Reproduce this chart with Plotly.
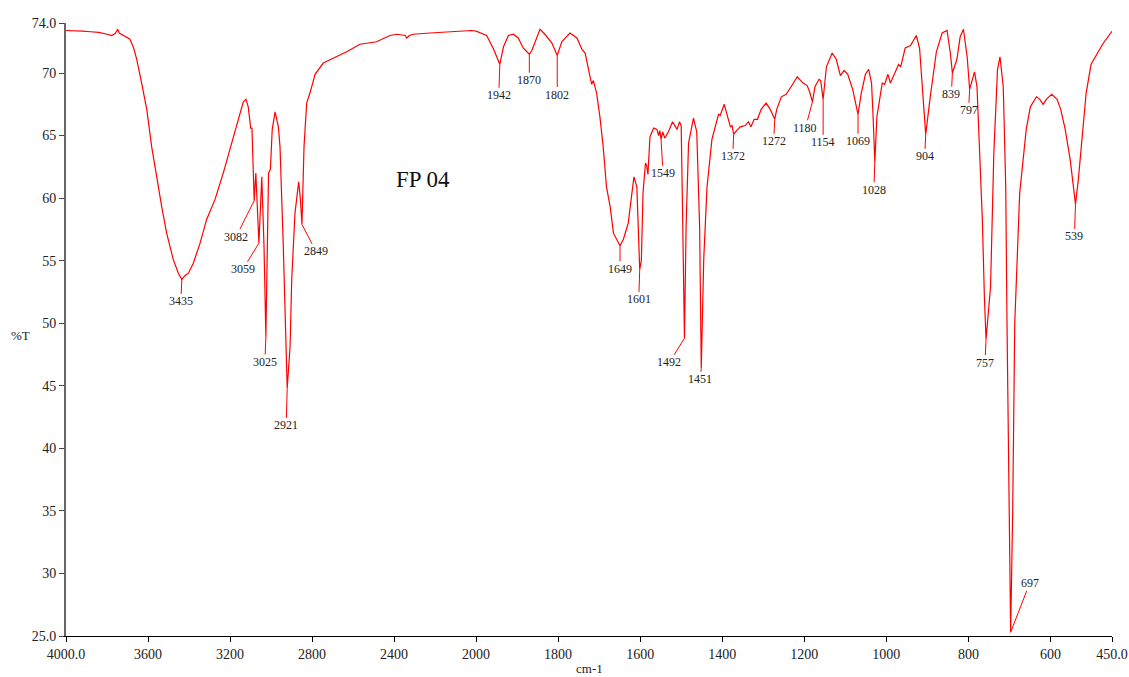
import plotly.graph_objects as go
import numpy as np

# ---- spectrum data (wavenumber cm-1, %T) ----
wn_high = [4000, 3960, 3920, 3880, 3840, 3800, 3777, 3760, 3748, 3740, 3728, 3710, 3688, 3670,
           3655, 3631, 3606, 3582, 3558, 3533, 3509, 3477, 3452, 3435, 3420, 3403, 3379, 3346,
           3314, 3273, 3233, 3200, 3167, 3135, 3122, 3111, 3099, 3093, 3082, 3074, 3059, 3045,
           3034, 3025, 3012, 3003, 2994, 2980, 2964, 2956, 2940, 2927, 2921, 2907, 2899, 2883,
           2865, 2857, 2849, 2839, 2826, 2810, 2802, 2785, 2745, 2680, 2631, 2566, 2485, 2420,
           2387, 2345, 2338, 2325, 2306, 2224, 2143, 2060, 2021, 2000]
t_high = [73.4, 73.4, 73.35, 73.3, 73.25, 73.1, 73.0, 73.15, 73.5, 73.2, 73.1, 72.95, 72.7, 72.0,
          71.1, 69.2, 67.1, 64.1, 61.7, 59.3, 57.2, 55.1, 54.0, 53.5, 53.8, 54.0, 54.8, 56.4,
          58.3, 59.9, 62.0, 63.9, 66.0, 67.7, 67.9, 67.3, 65.6, 65.6, 59.8, 62.0, 56.4, 61.7,
          56.1, 48.9, 62.0, 62.3, 65.5, 66.9, 65.7, 64.1, 56.1, 47.0, 44.8, 48.1, 53.5, 58.8,
          61.3, 60.0, 57.9, 64.1, 67.6, 68.4, 68.9, 69.9, 70.8, 71.3, 71.7, 72.3, 72.5, 73.0,
          73.1, 73.0, 72.8, 73.0, 73.1, 73.2, 73.3, 73.35, 73.4, 73.35]

wn_low = [2000, 1990, 1974, 1957, 1942, 1933, 1921, 1909, 1897, 1885, 1870, 1864, 1852, 1844,
          1832, 1815, 1802, 1791, 1771, 1754, 1742, 1734, 1722, 1718, 1714, 1706, 1698, 1690,
          1682, 1673, 1665, 1649, 1641, 1629, 1620, 1615, 1608, 1601, 1597, 1593, 1587, 1584,
          1581, 1576, 1567, 1559, 1555, 1552, 1549, 1545, 1540, 1531, 1521, 1510, 1504, 1500,
          1496, 1492, 1488, 1482, 1470, 1462, 1455, 1451, 1445, 1437, 1425, 1417, 1409, 1405,
          1395, 1385, 1380, 1376, 1372, 1365, 1356, 1344, 1336, 1330, 1322, 1314, 1305, 1293,
          1283, 1272, 1267, 1256, 1244, 1232, 1217, 1203, 1193, 1187, 1180, 1174, 1164, 1160,
          1154, 1146, 1132, 1122, 1112, 1103, 1094, 1082, 1069, 1061, 1051, 1043, 1036, 1032,
          1028, 1023, 1016, 1010, 1004, 996, 990, 980, 970, 965, 954, 941, 927, 919, 911, 904,
          893, 878, 864, 852, 844, 839, 828, 820, 812, 803, 797, 791, 785, 779, 772, 766, 761,
          757, 746, 738, 729, 723, 715, 709, 706, 703, 697, 692, 689, 687, 675, 665, 659, 649,
          634, 626, 618, 610, 597, 584, 575, 564, 552, 544, 539, 532, 523, 513, 501, 487, 471,
          451, 450]
t_low = [73.35, 73.2, 73.0, 71.9, 70.7, 72.1, 73.0, 73.1, 72.8, 72.0, 71.5, 71.8, 72.9, 73.5,
         73.1, 72.4, 71.4, 72.5, 73.2, 72.8, 71.9, 71.6, 69.7, 69.1, 69.4, 68.4, 66.5, 64.1,
         60.9, 59.3, 57.2, 56.2, 56.7, 58.0, 60.4, 61.7, 60.9, 54.3, 55.0, 60.4, 62.8, 62.6,
         61.9, 64.9, 65.6, 65.5, 65.0, 65.4, 64.7, 65.3, 64.8, 65.3, 66.1, 65.5, 66.1, 65.8,
         57.7, 48.8, 57.7, 64.4, 66.4, 65.3, 57.7, 46.4, 55.1, 60.9, 64.7, 65.6, 66.7, 66.6,
         67.5, 66.3, 65.7, 65.8, 65.1, 65.4, 65.7, 65.8, 66.1, 65.7, 66.3, 66.3, 67.1, 67.6,
         67.1, 66.3, 67.1, 68.1, 68.3, 68.9, 69.7, 69.2, 69.0, 68.5, 67.7, 68.9, 69.5, 69.4,
         67.9, 70.5, 71.6, 71.1, 69.8, 70.2, 69.9, 68.7, 66.7, 68.4, 69.9, 70.3, 69.2, 66.3,
         62.9, 66.5, 68.1, 69.2, 69.1, 69.9, 69.2, 69.9, 70.7, 70.5, 72.0, 72.2, 73.0, 72.0, 68.4, 65.1,
         68.1, 71.7, 73.2, 73.4, 71.6, 70.0, 71.1, 72.9, 73.5, 71.3, 68.7, 69.5, 70.1, 68.9, 63.6, 58.3, 52.1,
         48.7, 52.9, 63.6, 70.3, 71.3, 68.9, 60.9, 50.3, 40.0, 25.3, 35.0, 46.0, 50.0, 60.4, 63.9, 65.5, 67.3,
         68.1, 67.9, 67.5, 67.9, 68.3, 67.9, 67.1, 65.5, 63.1, 60.9, 59.5, 61.5, 64.9, 68.4, 70.7, 71.5, 72.4,
         73.3, 73.35]

# peak labels: wavenumber, text offset (ax, ay) in pixels
peaks_high = [3435, 3082, 3059, 3025, 2921, 2849]
offs_high = [(-1, 22), (-18, 36), (-16, 26), (-1, 25), (-1, 37), (14, 27)]
peaks_low = [1942, 1870, 1802, 1649, 1601, 1549, 1492, 1451, 1372, 1272, 1180, 1154, 1069,
             1028, 904, 839, 797, 757, 697, 539]
offs_low = [(-1, 31), (0, 26), (0, 39), (0, 23), (-1, 30), (2, 34), (-15, 24), (-1, 11),
            (-1, 22), (-1, 22), (-7, 26), (0, 43), (0, 27), (-1, 28), (-1, 22), (-1, 21),
            (-1, 21), (-1, 23), (19, -49), (-1, 32)]

x1_ticks = [4000, 3600, 3200, 2800, 2400]
x1_text = ["4000.0", "3600", "3200", "2800", "2400"]
x2_ticks = [2000, 1800, 1600, 1400, 1200, 1000, 800, 600, 450]
x2_text = ["2000", "1800", "1600", "1400", "1200", "1000", "800", "600", "450.0"]
y_ticks = [25, 30, 35, 40, 45, 50, 55, 60, 65, 70, 74]
y_text = ["25.0", "30", "35", "40", "45", "50", "55", "60", "65", "70", "74.0"]

SERIF = "Liberation Serif, Times New Roman, serif"
RED = "#ff0000"

fig = go.Figure()
fig.add_trace(go.Scatter(x=wn_high, y=t_high, mode="lines", xaxis="x", yaxis="y",
                         line=dict(color=RED, width=1.2), showlegend=False, hoverinfo="skip"))
fig.add_trace(go.Scatter(x=wn_low, y=t_low, mode="lines", xaxis="x2", yaxis="y",
                         line=dict(color=RED, width=1.2), showlegend=False, hoverinfo="skip"))

split = 410 / 1046

annotations = []


def add_peaks(peaks, offs, wn, tt, xref):
    wn_a = np.array(wn[::-1], dtype=float)
    t_a = np.array(tt[::-1], dtype=float)
    for p, (ax, ay) in zip(peaks, offs):
        yv = float(np.interp(p, wn_a, t_a))
        annotations.append(dict(x=p, y=yv, xref=xref, yref="y", text=str(p),
                                showarrow=True, arrowhead=0, arrowwidth=1, arrowcolor=RED,
                                ax=ax, ay=ay, standoff=0, borderpad=0,
                                font=dict(family=SERIF, size=12, color="#222")))


add_peaks(peaks_high, offs_high, wn_high, t_high, "x")
add_peaks(peaks_low, offs_low, wn_low, t_low, "x2")

annotations.append(dict(x=2258, y=61.5, xref="x", yref="y", text="FP 04", showarrow=False,
                        font=dict(family=SERIF, size=23, color="#111")))
annotations.append(dict(x=(20 - 66) / 1046, y=(636 - 336) / 613, xref="paper", yref="paper",
                        xanchor="center", yanchor="middle",
                        text="%T", showarrow=False,
                        font=dict(family=SERIF, size=13, color="#222")))
annotations.append(dict(x=0.5, y=(636 - 668) / 613, xref="paper", yref="paper",
                        xanchor="center", yanchor="middle",
                        text="cm-1", showarrow=False,
                        font=dict(family=SERIF, size=13, color="#222")))

axis_common = dict(showgrid=False, zeroline=False, showline=True, linecolor="black",
                   linewidth=1, ticks="outside", ticklen=5, tickcolor="black", automargin=False,
                   tickfont=dict(family=SERIF, size=14, color="#222"))

fig.update_layout(
    width=1129, height=677, autosize=False,
    margin=dict(l=66, r=17, t=23, b=41),
    paper_bgcolor="white", plot_bgcolor="white",
    xaxis=dict(domain=[0, split], range=[4000, 2000], anchor="y",
               tickmode="array", tickvals=x1_ticks, ticktext=x1_text, **axis_common),
    xaxis2=dict(domain=[split, 1], range=[2000, 450], anchor="y",
                tickmode="array", tickvals=x2_ticks, ticktext=x2_text, **axis_common),
    yaxis=dict(range=[25, 74], tickmode="array", tickvals=y_ticks, ticktext=y_text,
               showgrid=False, zeroline=False, showline=True, linecolor="#666", automargin=False,
               linewidth=2, ticks="outside", ticklen=5, tickcolor="#444",
               tickfont=dict(family=SERIF, size=14, color="#222")),
    annotations=annotations,
)

fig.write_html("out.html")
